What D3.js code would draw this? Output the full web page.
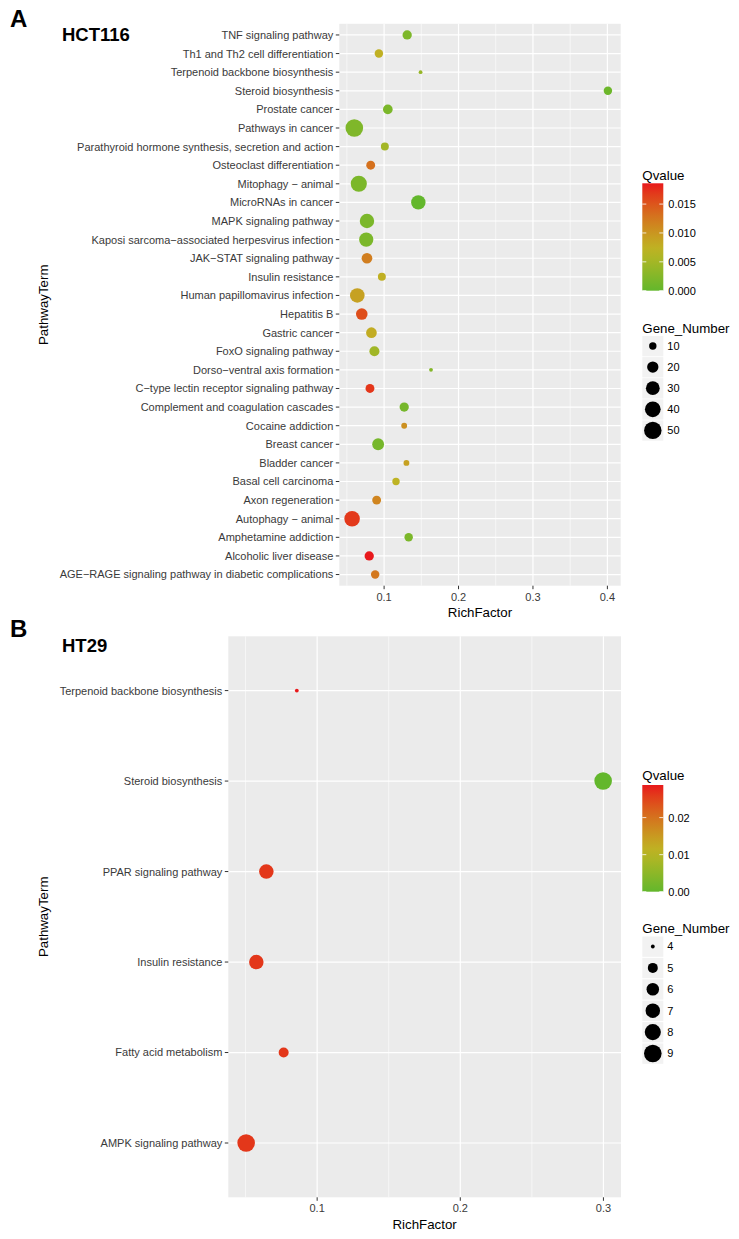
<!DOCTYPE html>
<html lang="en">
<head>
    <meta charset="UTF-8">
    <title>KEGG enrichment</title>
    <script src="https://d3js.org/d3.v7.min.js"></script>
</head>
<style>
    body { margin: 0; background: #fff; }
    text { font-family: "Liberation Sans", Arial, sans-serif; }
    .tick-label { font-size: 11px; fill: #3a3a3a; }
    .axis-title { font-size: 13.3px; fill: #000; }
    .legend-label { font-size: 11px; fill: #000; }
</style>
<body>
<script>
    // ---- panel A (HCT116), listed top to bottom
    const termsA = [
        "TNF signaling pathway", "Th1 and Th2 cell differentiation", "Terpenoid backbone biosynthesis",
        "Steroid biosynthesis", "Prostate cancer", "Pathways in cancer",
        "Parathyroid hormone synthesis, secretion and action", "Osteoclast differentiation",
        "Mitophagy \u2212 animal", "MicroRNAs in cancer", "MAPK signaling pathway",
        "Kaposi sarcoma\u2212associated herpesvirus infection", "JAK\u2212STAT signaling pathway",
        "Insulin resistance", "Human papillomavirus infection", "Hepatitis B", "Gastric cancer",
        "FoxO signaling pathway", "Dorso\u2212ventral axis formation",
        "C\u2212type lectin receptor signaling pathway", "Complement and coagulation cascades",
        "Cocaine addiction", "Breast cancer", "Bladder cancer", "Basal cell carcinoma",
        "Axon regeneration", "Autophagy \u2212 animal", "Amphetamine addiction",
        "Alcoholic liver disease", "AGE\u2212RAGE signaling pathway in diabetic complications"
    ];
    const richA = [0.131, 0.093, 0.149, 0.4007, 0.105, 0.060, 0.101, 0.082, 0.066, 0.146, 0.077,
        0.076, 0.077, 0.097, 0.064, 0.070, 0.083, 0.087, 0.163, 0.081, 0.127, 0.127, 0.092,
        0.130, 0.116, 0.090, 0.057, 0.133, 0.080, 0.088];
    const qA = [0.002, 0.0075, 0.004, 0.0008, 0.0018, 0.0022, 0.005, 0.013, 0.0018, 0.0000, 0.0018,
        0.0018, 0.012, 0.0075, 0.009, 0.0155, 0.008, 0.0048, 0.0025, 0.017, 0.0015, 0.0105, 0.0015,
        0.009, 0.0072, 0.0115, 0.0168, 0.0018, 0.0186, 0.0125];
    const genesA = [14, 12, 7, 12, 15, 51, 11, 13, 42, 33, 33, 32, 18, 11, 34, 21, 18, 16, 7, 13, 14,
        8, 22, 8, 10, 13, 39, 12, 14, 12];
    const xTicksA = [0.1, 0.2, 0.3, 0.4];
    const qTicksA = [0.000, 0.005, 0.010, 0.015];
    const sizeBreaksA = [10, 20, 30, 40, 50];

    // ---- panel B (HT29)
    const termsB = ["Terpenoid backbone biosynthesis", "Steroid biosynthesis", "PPAR signaling pathway",
        "Insulin resistance", "Fatty acid metabolism", "AMPK signaling pathway"];
    const richB = [0.0858, 0.2998, 0.0645, 0.0575, 0.0766, 0.0504];
    const qB = [0.0288, 0.0000, 0.0262, 0.0262, 0.0262, 0.0262];
    const genesB = [4, 9, 7, 7, 5, 9];
    const xTicksB = [0.1, 0.2, 0.3];
    const qTicksB = [0.00, 0.01, 0.02];
    const sizeBreaksB = [4, 5, 6, 7, 8, 9];

    const width = 739, height = 1239;
    const lowColor = "#63b72c", highColor = "#e8191c";

    // halfway between an hsl and a lab blend: a bit duller than pure hsl
    function interpolateQ(a, b) {
        const h = d3.interpolateHsl(a, b), l = d3.interpolateLab(a, b);
        return function (s) { return d3.interpolateRgb(h(s), l(s))(0.35); };
    }

    const svg = d3.select("body").append("svg")
        .attr("width", width)
        .attr("height", height);
    const defs = svg.append("defs");

    function drawPanel(p) {
        const g = svg.append("g");
        const rows = p.terms.map(function (t, i) {
            return {term: t, rich: p.rich[i], q: p.q[i], genes: p.genes[i]};
        });

        // ggplot style: 5% expansion on continuous x, 0.6 units on discrete y
        const ext = d3.extent(p.rich);
        const pad = (ext[1] - ext[0]) * 0.05;
        const x = d3.scaleLinear().domain([ext[0] - pad, ext[1] + pad]).range([p.left, p.right]);
        const y = d3.scalePoint().domain(p.terms).range([p.top, p.bottom]).padding(0.6);
        const qExt = d3.extent(p.q);
        const color = d3.scaleLinear().domain(qExt).range([lowColor, highColor]).interpolate(interpolateQ);
        const t = d3.scaleLinear().domain(d3.extent(p.genes)).range([0, 1]);
        const rScale = d3.scaleLinear().domain([0, 1]).range([1.9, 8.8]);
        const r = function (v) { return rScale(Math.sqrt(Math.max(0, t(v)))); };

        g.append("rect")
            .attr("x", p.left).attr("y", p.top)
            .attr("width", p.right - p.left).attr("height", p.bottom - p.top)
            .attr("fill", "#ebebeb");

        // minor grid at midpoints between major ticks
        const minor = [];
        const step = p.xTicks[1] - p.xTicks[0];
        for (let v = p.xTicks[0] - step / 2; v <= x.domain()[1]; v += step)
            if (v >= x.domain()[0]) minor.push(v);
        g.selectAll("line.minor").data(minor).enter().append("line")
            .attr("x1", d => x(d)).attr("x2", d => x(d))
            .attr("y1", p.top).attr("y2", p.bottom)
            .attr("stroke", "#fff").attr("stroke-width", 0.6);

        g.selectAll("line.vmajor").data(p.xTicks).enter().append("line")
            .attr("x1", d => x(d)).attr("x2", d => x(d))
            .attr("y1", p.top).attr("y2", p.bottom)
            .attr("stroke", "#fff").attr("stroke-width", 1.2);

        g.selectAll("line.hmajor").data(p.terms).enter().append("line")
            .attr("x1", p.left).attr("x2", p.right)
            .attr("y1", d => y(d)).attr("y2", d => y(d))
            .attr("stroke", "#fff").attr("stroke-width", 1.2);

        // y axis
        g.selectAll("line.ytick").data(p.terms).enter().append("line")
            .attr("x1", p.left - 3.5).attr("x2", p.left)
            .attr("y1", d => y(d)).attr("y2", d => y(d))
            .attr("stroke", "#333").attr("stroke-width", 1);
        g.selectAll("text.ylab").data(p.terms).enter().append("text")
            .attr("class", "tick-label")
            .attr("x", p.left - 6).attr("y", d => y(d))
            .attr("dy", "0.36em")
            .attr("text-anchor", "end")
            .text(d => d);

        // x axis
        g.selectAll("line.xtick").data(p.xTicks).enter().append("line")
            .attr("x1", d => x(d)).attr("x2", d => x(d))
            .attr("y1", p.bottom).attr("y2", p.bottom + 3.5)
            .attr("stroke", "#333").attr("stroke-width", 1);
        g.selectAll("text.xlab").data(p.xTicks).enter().append("text")
            .attr("class", "tick-label")
            .attr("x", d => x(d)).attr("y", p.bottom + 15)
            .attr("text-anchor", "middle")
            .text(d => d3.format(".1f")(d));

        g.append("text").attr("class", "axis-title")
            .attr("x", (p.left + p.right) / 2).attr("y", p.bottom + 31.5)
            .attr("text-anchor", "middle")
            .text("RichFactor");
        g.append("text").attr("class", "axis-title")
            .attr("transform", "translate(" + 47.5 + "," + ((p.top + p.bottom) / 2) + ") rotate(-90)")
            .attr("text-anchor", "middle")
            .text("PathwayTerm");

        // points
        g.selectAll("circle.pt").data(rows).enter().append("circle")
            .attr("cx", d => x(d.rich))
            .attr("cy", d => y(d.term))
            .attr("r", d => r(d.genes))
            .attr("fill", d => color(d.q));

        // panel letter and title
        g.append("text").attr("x", 10).attr("y", p.letterY)
            .style("font-size", "24px").style("font-weight", "bold")
            .text(p.letter);
        g.append("text").attr("x", 62).attr("y", p.titleY)
            .style("font-size", "18.5px").style("font-weight", "bold")
            .text(p.title);

        // colour bar legend
        const lx = 642.3, barW = 21;
        g.append("text").attr("class", "axis-title")
            .attr("x", lx).attr("y", p.qTitleY)
            .text("Qvalue");
        const qy = d3.scaleLinear().domain(qExt).range([p.barBottom, p.barTop]);
        const grad = defs.append("linearGradient")
            .attr("id", "grad" + p.letter)
            .attr("x1", 0).attr("x2", 0).attr("y1", 1).attr("y2", 0);
        d3.range(0, 1.0001, 0.1).forEach(function (s) {
            grad.append("stop").attr("offset", s)
                .attr("stop-color", color(qExt[0] + s * (qExt[1] - qExt[0])));
        });
        g.append("rect")
            .attr("x", lx).attr("y", p.barTop)
            .attr("width", barW).attr("height", p.barBottom - p.barTop)
            .attr("fill", "url(#grad" + p.letter + ")");
        p.qTicks.forEach(function (v) {
            [[lx, lx + 4], [lx + barW - 4, lx + barW]].forEach(function (seg) {
                g.append("line")
                    .attr("x1", seg[0]).attr("x2", seg[1])
                    .attr("y1", qy(v)).attr("y2", qy(v))
                    .attr("stroke", "#fff").attr("stroke-width", 0.8);
            });
        });
        g.selectAll("text.qlab").data(p.qTicks).enter().append("text")
            .attr("class", "legend-label")
            .attr("x", lx + barW + 5).attr("y", d => qy(d))
            .attr("dy", "0.36em")
            .text(d => d3.format(p.qFormat)(d));

        // size legend
        g.append("text").attr("class", "axis-title")
            .attr("x", lx).attr("y", p.sizeTitleY)
            .text("Gene_Number");
        const ky = d3.scalePoint().domain(p.sizeBreaks)
            .range([p.keyTop, p.keyTop + p.keyStep * (p.sizeBreaks.length - 1)]);
        g.selectAll("rect.key").data(p.sizeBreaks).enter().append("rect")
            .attr("x", lx).attr("y", d => ky(d) - 10)
            .attr("width", barW).attr("height", 20.3)
            .attr("fill", "#f2f2f2");
        g.selectAll("circle.key").data(p.sizeBreaks).enter().append("circle")
            .attr("cx", lx + barW / 2).attr("cy", d => ky(d))
            .attr("r", d => r(d))
            .attr("fill", "#000");
        g.selectAll("text.klab").data(p.sizeBreaks).enter().append("text")
            .attr("class", "legend-label")
            .attr("x", lx + barW + 4).attr("y", d => ky(d))
            .attr("dy", "0.36em")
            .text(d => d);
    }

    drawPanel({
        letter: "A", title: "HCT116", letterY: 27, titleY: 41,
        terms: termsA, rich: richA, q: qA, genes: genesA,
        xTicks: xTicksA, qTicks: qTicksA, qFormat: ".3f", sizeBreaks: sizeBreaksA,
        left: 339.3, right: 620.7, top: 23.8, bottom: 585.7,
        qTitleY: 180, barTop: 183.3, barBottom: 290.7,
        sizeTitleY: 332.5, keyTop: 346, keyStep: 21.1
    });

    drawPanel({
        letter: "B", title: "HT29", letterY: 637, titleY: 651.5,
        terms: termsB, rich: richB, q: qB, genes: genesB,
        xTicks: xTicksB, qTicks: qTicksB, qFormat: ".2f", sizeBreaks: sizeBreaksB,
        left: 228.3, right: 621, top: 636.3, bottom: 1197.3,
        qTitleY: 780, barTop: 785, barBottom: 891.7,
        sizeTitleY: 932.5, keyTop: 946.5, keyStep: 21.4
    });
</script>
</body>
</html>
